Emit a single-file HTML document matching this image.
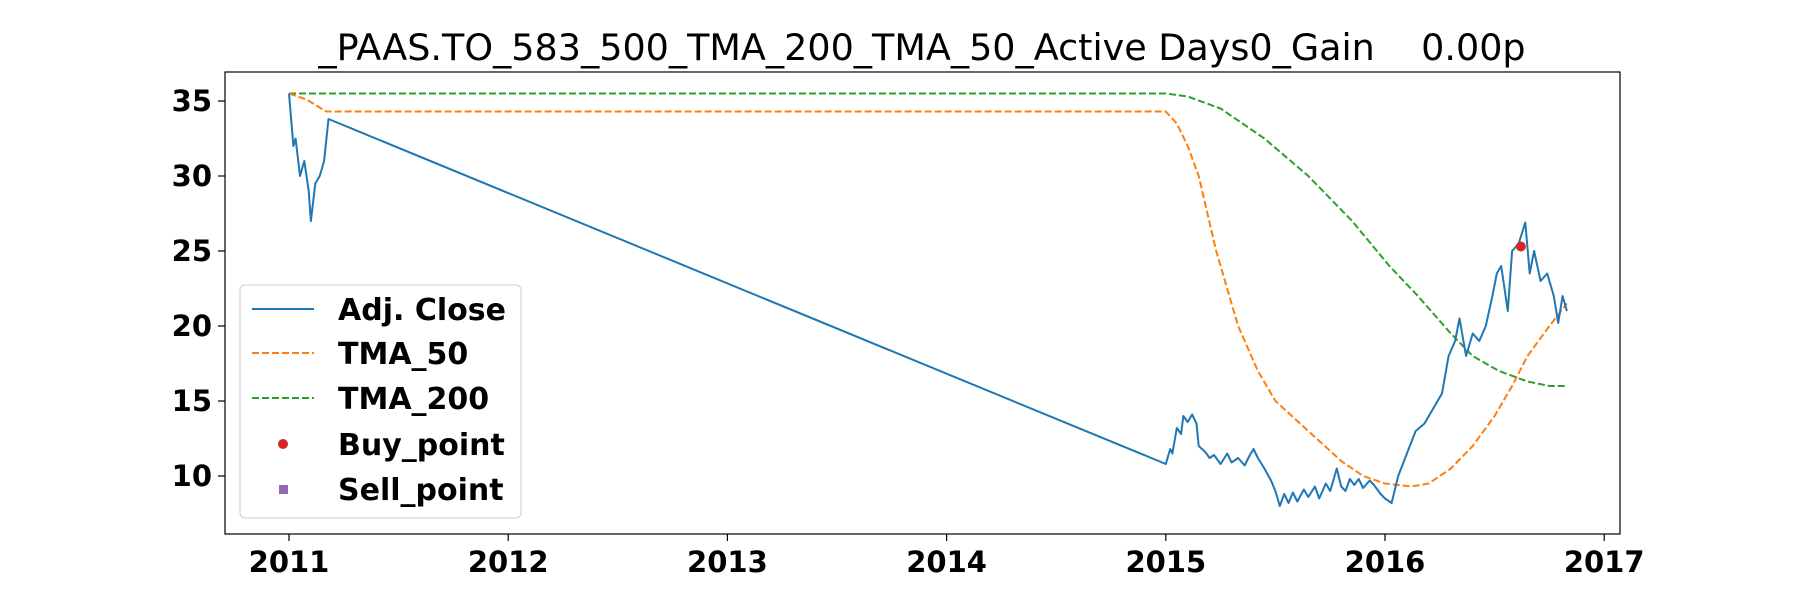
<!DOCTYPE html>
<html><head><meta charset="utf-8"><style>
body{margin:0;background:#fff}
svg{display:block}
text{font-family:"DejaVu Sans","Liberation Sans",sans-serif}
</style></head><body>
<svg id="chart" width="1800" height="600" xmlns="http://www.w3.org/2000/svg">
<text x="922" y="60" font-size="36.5" text-anchor="middle" style="white-space:pre">_PAAS.TO_583_500_TMA_200_TMA_50_Active Days0_Gain    0.00p</text>
<g id="plot"></g>
<rect x="225" y="72" width="1395" height="462" fill="none" stroke="#000" stroke-width="1.2"/>
<g>
<rect x="240" y="285" width="281" height="233" rx="5" fill="#fff" fill-opacity="0.8" stroke="#ccc" stroke-width="1"/>
<line x1="252" y1="309" x2="314" y2="309" stroke="#1f77b4" stroke-width="2"/>
<text x="338" y="320" font-size="30" font-weight="bold">Adj. Close</text>
<line x1="252" y1="353" x2="314" y2="353" stroke="#ff7f0e" stroke-width="2" stroke-dasharray="7,3"/>
<text x="338" y="364" font-size="30" font-weight="bold">TMA_50</text>
<line x1="252" y1="398" x2="314" y2="398" stroke="#2ca02c" stroke-width="2" stroke-dasharray="7,3"/>
<text x="338" y="409" font-size="30" font-weight="bold">TMA_200</text>
<circle cx="283" cy="444" r="5" fill="#d62728"/>
<text x="338" y="455" font-size="30" font-weight="bold">Buy_point</text>
<rect x="279" y="485" width="9" height="9" fill="#9467bd"/>
<text x="338" y="500" font-size="30" font-weight="bold">Sell_point</text>
</g>
</svg>
<script>
const xTicks=[2011,2012,2013,2014,2015,2016,2017];
const yTicks=[10,15,20,25,30,35];
const adjT=[2011.0,2011.02,2011.03,2011.05,2011.07,2011.09,2011.1,2011.12,2011.14,2011.16,2011.18,2015.0,2015.02,2015.03,2015.05,2015.07,2015.08,2015.1,2015.12,2015.14,2015.15,2015.18,2015.2,2015.22,2015.25,2015.28,2015.3,2015.33,2015.36,2015.38,2015.4,2015.42,2015.45,2015.48,2015.5,2015.52,2015.54,2015.56,2015.58,2015.6,2015.63,2015.65,2015.68,2015.7,2015.73,2015.75,2015.78,2015.8,2015.82,2015.84,2015.86,2015.88,2015.9,2015.93,2015.95,2015.98,2016.0,2016.03,2016.06,2016.1,2016.14,2016.18,2016.22,2016.26,2016.29,2016.32,2016.34,2016.37,2016.4,2016.43,2016.46,2016.49,2016.51,2016.53,2016.56,2016.58,2016.61,2016.64,2016.66,2016.68,2016.71,2016.74,2016.77,2016.79,2016.81,2016.83];
const adjV=[35.5,32,32.5,30,31,29,27,29.5,30,31,33.8,10.8,11.8,11.5,13.2,12.8,14,13.6,14.1,13.5,12,11.6,11.2,11.4,10.8,11.5,10.9,11.2,10.7,11.3,11.8,11.2,10.5,9.7,9,8,8.8,8.2,8.9,8.3,9.1,8.6,9.3,8.5,9.5,9.0,10.5,9.3,9.0,9.8,9.4,9.8,9.2,9.7,9.4,8.8,8.5,8.2,10,11.5,13,13.5,14.5,15.5,18,19,20.5,18,19.5,19,20,22,23.5,24,21,25,25.5,26.9,23.5,25,23,23.5,22,20.2,22,21];
const t50T=[2011.0,2011.08,2011.17,2015.0,2015.05,2015.1,2015.15,2015.23,2015.33,2015.42,2015.5,2015.65,2015.8,2015.9,2016.0,2016.12,2016.2,2016.3,2016.4,2016.5,2016.58,2016.65,2016.75,2016.83];
const t50V=[35.5,35.1,34.3,34.3,33.5,32,30,25,20,17,15,13,11,10,9.5,9.3,9.5,10.5,12,14,16,18,20,21.5];
const t200T=[2011.0,2015.0,2015.1,2015.25,2015.45,2015.65,2015.85,2016.02,2016.15,2016.3,2016.4,2016.52,2016.65,2016.75,2016.83];
const t200V=[35.5,35.5,35.3,34.5,32.5,30,27,24,22,19.5,18,17,16.3,16,16];
const buyT=[2016.62];
const buyV=[25.3];
const NS="http://www.w3.org/2000/svg";
const X=t=>289+(t-2011)*219.2;
const Y=v=>101-(v-35)*15;
const plot=document.getElementById('plot');
function mk(tag,attrs,parent){const e=document.createElementNS(NS,tag);for(const k in attrs)e.setAttribute(k,attrs[k]);(parent||plot).appendChild(e);return e;}
xTicks.forEach(t=>{
 const l=mk('line',{x1:X(t),x2:X(t),y1:534,y2:541,stroke:'#000','stroke-width':1.2});
 
 
 const tx=mk('text',{x:X(t),y:572,'font-size':29,'font-weight':'bold','text-anchor':'middle'});
 tx.textContent=t;
 
 
});
yTicks.forEach(v=>{
 const l=mk('line',{x1:218,x2:225,y1:Y(v),y2:Y(v),stroke:'#000','stroke-width':1.2});
 
 
 const tx=mk('text',{x:212,y:Y(v)+10,'font-size':29,'font-weight':'bold','text-anchor':'end'});
 tx.textContent=v;
 
 
});
function line(T,V,color,dash,name){
 const d=T.map((t,i)=>(i?'L':'M')+X(t).toFixed(1)+','+Y(V[i]).toFixed(1)).join(' ');
 const p=mk('path',{d:d,fill:'none',stroke:color,'stroke-width':2,'stroke-linejoin':'round'});
 if(dash)p.setAttribute('stroke-dasharray',dash);
 
 
}
line(t200T,t200V,'#2ca02c','7,3','tma200-line');
line(t50T,t50V,'#ff7f0e','7,3','tma50-line');
line(adjT,adjV,'#1f77b4',null,'adj-close-line');
buyT.forEach((t,i)=>{
 const c=mk('circle',{cx:X(t),cy:Y(buyV[i]),r:5,fill:'#d62728'});
 
 
});
</script>
</body></html>
